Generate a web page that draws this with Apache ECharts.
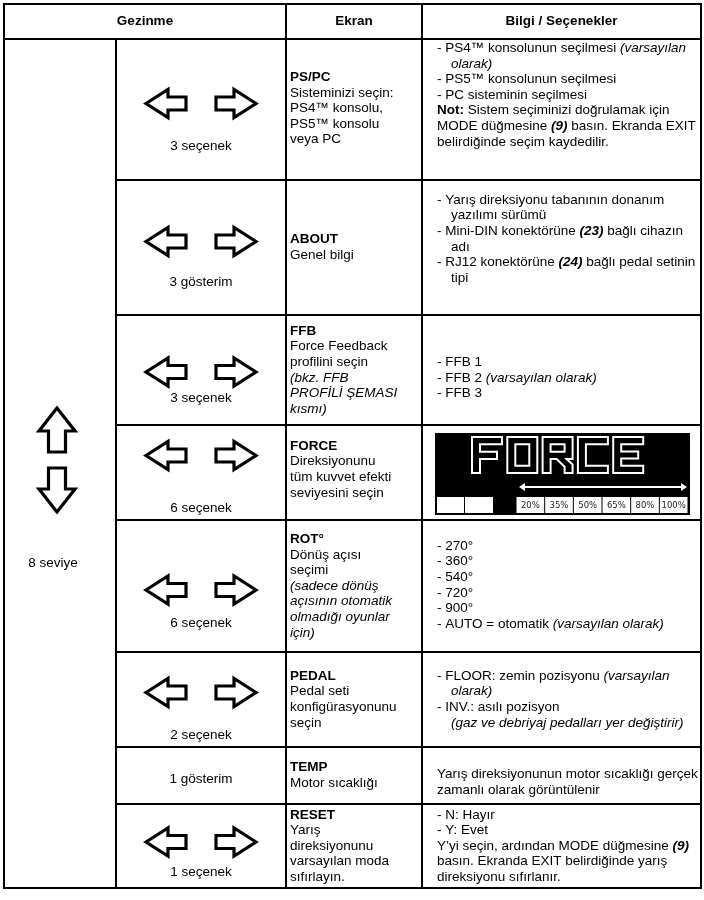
<!DOCTYPE html>
<html><head><meta charset="utf-8">
<script src="https://cdn.jsdelivr.net/npm/echarts@6/dist/echarts.min.js"></script>
<style>html,body{margin:0;padding:0;background:#fff}#c{width:704px;height:900px}</style>
</head><body><div id="c"></div>
<script>
// ---------- DATA ----------
const headers = ['Gezinme', 'Ekran', 'Bilgi / Seçenekler'];
const levelLabel = '8 seviye';
const navLabels = ['3 seçenek', '3 gösterim', '3 seçenek', '6 seçenek', '6 seçenek', '2 seçenek', '1 gösterim', '1 seçenek'];
const navArrows = [true, true, true, true, true, true, false, true];
const screenTitles = ['PS/PC', 'ABOUT', 'FFB', 'FORCE', 'ROT°', 'PEDAL', 'TEMP', 'RESET'];
const screenDescs = [
  ['Sisteminizi seçin:', 'PS4™ konsolu,', 'PS5™ konsolu', 'veya PC'],
  ['Genel bilgi'],
  ['Force Feedback', 'profilini seçin', '{i|(bkz. FFB}', '{i|PROFİLİ ŞEMASI}', '{i|kısmı)}'],
  ['Direksiyonunu', 'tüm kuvvet efekti', 'seviyesini seçin'],
  ['Dönüş açısı', 'seçimi', '{i|(sadece dönüş}', '{i|açısının otomatik}', '{i|olmadığı oyunlar}', '{i|için)}'],
  ['Pedal seti', 'konfigürasyonunu', 'seçin'],
  ['Motor sıcaklığı'],
  ['Yarış', 'direksiyonunu', 'varsayılan moda', 'sıfırlayın.']
];
const infoLines = [
  ['- PS4™ konsolunun seçilmesi {i|(varsayılan}', '{ind| }{i|olarak)}', '- PS5™ konsolunun seçilmesi', '- PC sisteminin seçilmesi', '{b|Not:} Sistem seçiminizi doğrulamak için', 'MODE düğmesine {bi|(9)} basın. Ekranda EXIT', 'belirdiğinde seçim kaydedilir.'],
  ['- Yarış direksiyonu tabanının donanım', '{ind| }yazılımı sürümü', '- Mini-DIN konektörüne {bi|(23)} bağlı cihazın', '{ind| }adı', '- RJ12 konektörüne {bi|(24)} bağlı pedal setinin', '{ind| }tipi'],
  ['- FFB 1', '- FFB 2 {i|(varsayılan olarak)}', '- FFB 3'],
  null,
  ['- 270°', '- 360°', '- 540°', '- 720°', '- 900°', '- AUTO = otomatik {i|(varsayılan olarak)}'],
  ['- FLOOR: zemin pozisyonu {i|(varsayılan}', '{ind| }{i|olarak)}', '- INV.: asılı pozisyon', '{ind| }{i|(gaz ve debriyaj pedalları yer değiştirir)}'],
  ['Yarış direksiyonunun motor sıcaklığı gerçek', 'zamanlı olarak görüntülenir'],
  ['- N: Hayır', '- Y: Evet', 'Y’yi seçin, ardından MODE düğmesine {bi|(9)}', 'basın. Ekranda EXIT belirdiğinde yarış', 'direksiyonu sıfırlanır.']
];
const forceTitle = 'FORCE';
const forceSteps = ['20%', '35%', '50%', '65%', '80%', '100%'];

// ---------- LAYOUT ----------
const colX = [4, 116, 286, 422, 701];
const rowY = [4, 39, 180, 315, 425, 520, 652, 747, 804, 888];
const navArrowOff = [-6, -6, 2, -17, 4, -7, 0, -4];
const navLabelOff = [-34, -33, -27, -12, -29, -12, 0, -16];
const screenOff = [-1, 0, 0, -3, 0, 0, 0, 0];
const infoOff = [-14.5, -8.5, 8, 0, -1, 0, 7, 0];
const FS = 13.5, LH = 15.6, LW = 2;
const FONT = '"Liberation Sans", Arial, Helvetica, sans-serif';
const RICH = {
  b: {fontWeight: 'bold', fontSize: FS, fontFamily: FONT, lineHeight: LH, fill: '#000'},
  i: {fontStyle: 'italic', fontSize: FS, fontFamily: FONT, lineHeight: LH, fill: '#000'},
  bi: {fontStyle: 'italic', fontWeight: 'bold', fontSize: FS, fontFamily: FONT, lineHeight: LH, fill: '#000'},
  ind: {width: 14, fontSize: FS, fontFamily: FONT, lineHeight: LH}
};
const GLYPHS = {
  F: [[[0,0],[6,0],[6,1.6],[1.6,1.6],[1.6,3.3],[5,3.3],[5,4.9],[1.6,4.9],[1.6,8],[0,8]]],
  O: [[[0,0],[6,0],[6,8],[0,8]], [[1.6,1.6],[4.4,1.6],[4.4,6.4],[1.6,6.4]]],
  R: [[[0,0],[6,0],[6,4.9],[4.8,4.9],[6,6.1],[6,8],[4.4,8],[4.4,6.6],[2.8,4.9],[1.6,4.9],[1.6,8],[0,8]], [[1.6,1.6],[4.4,1.6],[4.4,3.3],[1.6,3.3]]],
  C: [[[0,0],[6,0],[6,1.6],[1.6,1.6],[1.6,6.4],[6,6.4],[6,8],[0,8]]],
  E: [[[0,0],[6,0],[6,1.6],[1.6,1.6],[1.6,3.2],[5,3.2],[5,4.8],[1.6,4.8],[1.6,6.4],[6,6.4],[6,8],[0,8]]]
};

// ---------- HELPERS ----------
function line(api, x1, y1, x2, y2, w, color) {
  const a = api.coord([x1, y1]), b = api.coord([x2, y2]);
  return {type: 'line', shape: {x1: a[0], y1: a[1], x2: b[0], y2: b[1]}, style: {stroke: color || '#000', lineWidth: w || LW}};
}
function text(api, x, y, str, opts) {
  const p = api.coord([x, y]);
  return {type: 'text', style: Object.assign({
    text: str, x: p[0], y: p[1], fill: '#000', fontSize: FS, fontFamily: FONT,
    lineHeight: LH, rich: RICH, align: 'left', verticalAlign: 'middle'
  }, opts || {})};
}
function rect(api, x1, y1, x2, y2, style) {
  const a = api.coord([x1, y1]), b = api.coord([x2, y2]);
  return {type: 'rect', shape: {x: a[0], y: a[1], width: b[0] - a[0], height: b[1] - a[1]}, style: style};
}
function poly(api, pts, style) {
  return {type: 'polygon', shape: {points: pts.map(p => api.coord(p))}, style: style};
}
// outlined block arrow; dir 'l','r','u','d'
function arrow(api, cx, cy, dir, len, half, head, shaft) {
  const base = [[-len/2,0],[-len/2+head,-half],[-len/2+head,-shaft],[len/2,-shaft],[len/2,shaft],[-len/2+head,shaft],[-len/2+head,half]];
  const pts = base.map(([u, v]) => {
    if (dir === 'l') return [cx + u, cy + v];
    if (dir === 'r') return [cx - u, cy + v];
    if (dir === 'u') return [cx + v, cy + u];
    return [cx + v, cy - u];
  });
  return poly(api, pts, {fill: '#fff', stroke: '#000', lineWidth: 3.2, lineJoin: 'miter'});
}

// ---------- RENDER ----------
function renderFrame(params, api) {
  const ch = [];
  const hy = (rowY[0] + rowY[1]) / 2;
  ch.push(text(api, (colX[0] + colX[2]) / 2, hy, headers[0], {fontWeight: 'bold', align: 'center'}));
  ch.push(text(api, (colX[2] + colX[3]) / 2, hy, headers[1], {fontWeight: 'bold', align: 'center'}));
  ch.push(text(api, (colX[3] + colX[4]) / 2, hy, headers[2], {fontWeight: 'bold', align: 'center'}));
  const top = rowY[0], bot = rowY[rowY.length - 1];
  ch.push(line(api, colX[0], top, colX[4], top));
  ch.push(line(api, colX[0], bot, colX[4], bot));
  ch.push(line(api, colX[0], top - 1, colX[0], bot + 1));
  ch.push(line(api, colX[4], top - 1, colX[4], bot + 1));
  ch.push(line(api, colX[0], rowY[1], colX[4], rowY[1]));
  ch.push(line(api, colX[2], top, colX[2], rowY[1]));
  ch.push(line(api, colX[3], top, colX[3], rowY[1]));
  ch.push(line(api, colX[1], rowY[1], colX[1], bot));
  const cx = (colX[0] + colX[1]) / 2 - 3;
  ch.push(arrow(api, cx, 430, 'u', 44, 18, 23, 8.5));
  ch.push(arrow(api, cx, 490, 'd', 44, 18, 23, 8.5));
  ch.push(text(api, cx - 4, 563, levelLabel, {align: 'center'}));
  return {type: 'group', children: ch};
}

function renderForce(api, x1, y1, x2, y2) {
  const ch = [];
  ch.push(rect(api, x1, y1, x2, y2, {fill: '#000'}));
  const L = x1, T = y1;
  const gw = 5, gh = 4.5, step = 35.3;
  forceTitle.split('').forEach((c, k) => {
    const ox = L + 37 + k * step, oy = T + 4;
    (GLYPHS[c] || []).forEach(shape => {
      ch.push(poly(api, shape.map(([u, v]) => [ox + u * gw, oy + v * gh]), {fill: '#000', stroke: '#fff', lineWidth: 2}));
    });
  });
  const ay = T + 54, ax1 = L + 84, ax2 = x2 - 3;
  ch.push(line(api, ax1 + 4, ay, ax2 - 4, ay, 2.2, '#fff'));
  ch.push(poly(api, [[ax1, ay], [ax1 + 6, ay - 4], [ax1 + 6, ay + 4]], {fill: '#fff'}));
  ch.push(poly(api, [[ax2, ay], [ax2 - 6, ay - 4], [ax2 - 6, ay + 4]], {fill: '#fff'}));
  const by1 = T + 64, by2 = y2 - 2;
  ch.push(rect(api, L + 2, by1, L + 29, by2, {fill: '#fff'}));
  ch.push(rect(api, L + 30, by1, L + 58, by2, {fill: '#fff'}));
  const bx0 = L + 81, bw = (x2 - 2 - bx0) / forceSteps.length;
  forceSteps.forEach((s, k) => {
    const bx = bx0 + k * bw;
    ch.push(rect(api, bx + 0.5, by1, bx + bw - 0.5, by2, {fill: '#fff'}));
    ch.push(text(api, bx + bw / 2, (by1 + by2) / 2 + 0.5, s, {align: 'center', fontSize: 8.5, fontFamily: '"DejaVu Sans", sans-serif', fill: '#222'}));
  });
  return ch;
}

function renderRow(params, api) {
  const i = api.value(0);
  const top = rowY[i + 1], bot = rowY[i + 2], mid = (top + bot) / 2;
  const ch = [];
  if (i > 0) ch.push(line(api, colX[1], top, colX[4], top));
  ch.push(line(api, colX[2], top, colX[2], bot));
  ch.push(line(api, colX[3], top, colX[3], bot));
  const ncx = (colX[1] + colX[2]) / 2;
  if (navArrows[i]) {
    const ay = mid + navArrowOff[i];
    ch.push(arrow(api, ncx - 35, ay, 'l', 40, 14, 22, 6.5));
    ch.push(arrow(api, ncx + 35, ay, 'r', 40, 14, 22, 6.5));
    ch.push(text(api, ncx, bot + navLabelOff[i], navLabels[i], {align: 'center'}));
  } else {
    ch.push(text(api, ncx, mid + 4, navLabels[i], {align: 'center'}));
  }
  const scr = ['{b|' + screenTitles[i] + '}'].concat(screenDescs[i]).join('\n');
  ch.push(text(api, colX[2] + 4, mid + screenOff[i], scr));
  if (infoLines[i]) {
    ch.push(text(api, colX[3] + 15, mid + infoOff[i], infoLines[i].join('\n')));
  } else {
    renderForce(api, colX[3] + 13, top + 8, colX[4] - 11, bot - 5).forEach(e => ch.push(e));
  }
  return {type: 'group', children: ch};
}

const chart = echarts.init(document.getElementById('c'), null, {renderer: 'canvas', width: 704, height: 900});
chart.setOption({
  animation: false,
  backgroundColor: '#fff',
  grid: {left: 0, right: 0, top: 0, bottom: 0},
  xAxis: {type: 'value', min: 0, max: 704, show: false},
  yAxis: {type: 'value', min: 0, max: 900, inverse: true, show: false},
  series: [
    {type: 'custom', name: 'frame', coordinateSystem: 'cartesian2d', silent: true,
     data: [[0, 0]], renderItem: renderFrame},
    {type: 'custom', name: 'rows', coordinateSystem: 'cartesian2d', silent: true,
     data: navLabels.map((_, k) => [k, 0]), renderItem: renderRow}
  ]
});
</script>
</body></html>
